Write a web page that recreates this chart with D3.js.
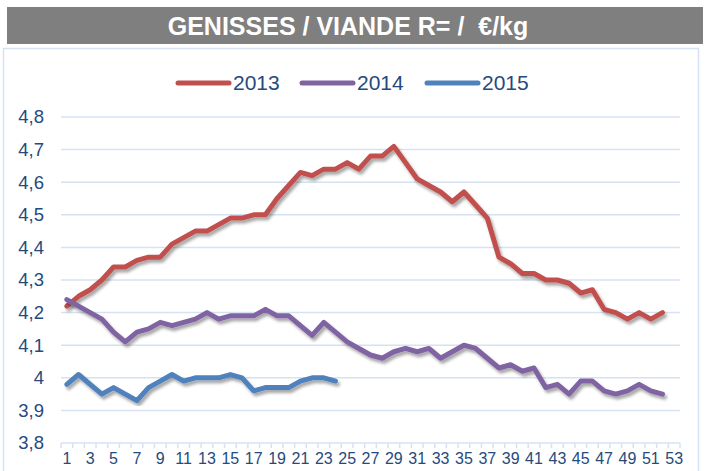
<!DOCTYPE html>
<html>
<head>
<meta charset="utf-8">
<script src="https://cdn.jsdelivr.net/npm/d3@7"></script>
<style>
  html, body { margin: 0; padding: 0; background: #fff; }
  svg { display: block; font-family: 'Liberation Sans', Arial, sans-serif; }
</style>
</head>
<body>
<div class="container"></div>
<script>
const weeks = d3.range(1, 54);
const y2013 = [4.22, 4.25, 4.27, 4.30, 4.34, 4.34, 4.36, 4.37, 4.37, 4.41, 4.43, 4.45, 4.45, 4.47, 4.49, 4.49, 4.50, 4.50, 4.55, 4.59, 4.63, 4.62, 4.64, 4.64, 4.66, 4.64, 4.68, 4.68, 4.71, 4.66, 4.61, 4.59, 4.57, 4.54, 4.57, 4.53, 4.49, 4.37, 4.35, 4.32, 4.32, 4.30, 4.30, 4.29, 4.26, 4.27, 4.21, 4.20, 4.18, 4.20, 4.18, 4.20];
const y2014 = [4.24, 4.22, 4.20, 4.18, 4.14, 4.11, 4.14, 4.15, 4.17, 4.16, 4.17, 4.18, 4.20, 4.18, 4.19, 4.19, 4.19, 4.21, 4.19, 4.19, 4.16, 4.13, 4.17, 4.14, 4.11, 4.09, 4.07, 4.06, 4.08, 4.09, 4.08, 4.09, 4.06, 4.08, 4.10, 4.09, 4.06, 4.03, 4.04, 4.02, 4.03, 3.97, 3.98, 3.95, 3.99, 3.99, 3.96, 3.95, 3.96, 3.98, 3.96, 3.95];
const y2015 = [3.98, 4.01, 3.98, 3.95, 3.97, 3.95, 3.93, 3.97, 3.99, 4.01, 3.99, 4.00, 4.00, 4.00, 4.01, 4.00, 3.96, 3.97, 3.97, 3.97, 3.99, 4.00, 4.00, 3.99];
const yTicks = [3.8, 3.9, 4.0, 4.1, 4.2, 4.3, 4.4, 4.5, 4.6, 4.7, 4.8];
const xLabels = weeks.filter((w) => w % 2 === 1);
const seriesNames = ['2013', '2014', '2015'];

const width = 708;
const height = 471;
const textColor = '#254a7d';
const gridColor = '#d6e2f2';
const colors = { 2013: '#c0504d', 2014: '#8064a2', 2015: '#4f81bd' };
const seriesData = { 2013: y2013, 2014: y2014, 2015: y2015 };

const svg = d3
  .select('.container')
  .append('svg')
  .attr('width', width)
  .attr('height', height);

const defs = svg.append('defs');
defs
  .append('filter')
  .attr('id', 'shadow')
  .attr('x', '-10%')
  .attr('y', '-10%')
  .attr('width', '120%')
  .attr('height', '130%')
  .append('feDropShadow')
  .attr('dx', 2)
  .attr('dy', 3)
  .attr('stdDeviation', 1.8)
  .attr('flood-color', '#000')
  .attr('flood-opacity', 0.35);

// title bar
svg
  .append('rect')
  .attr('x', 7)
  .attr('y', 7)
  .attr('width', 696)
  .attr('height', 37)
  .attr('fill', '#7f7f7f');
svg
  .append('text')
  .attr('x', 348)
  .attr('y', 35)
  .attr('text-anchor', 'middle')
  .attr('fill', '#fff')
  .style('font-size', '25px')
  .style('font-weight', 'bold')
  .style('white-space', 'pre')
  .text('GENISSES / VIANDE R= /  €/kg');

// chart frame
svg
  .append('rect')
  .attr('x', 3.5)
  .attr('y', 48.5)
  .attr('width', 695)
  .attr('height', 440)
  .attr('fill', 'none')
  .attr('stroke', gridColor)
  .attr('stroke-width', 1.5);

const xScale = d3.scaleBand().domain(weeks).range([61, 680]);
const yScale = d3.scaleLinear().domain([3.8, 4.8]).range([443, 117]);
const xMid = (w) => xScale(w) + xScale.bandwidth() / 2;

// gridlines
svg
  .append('g')
  .selectAll('line')
  .data(yTicks.slice(1))
  .enter()
  .append('line')
  .attr('x1', 61)
  .attr('x2', 680)
  .attr('y1', (d) => yScale(d))
  .attr('y2', (d) => yScale(d))
  .attr('stroke', gridColor)
  .attr('stroke-width', 1.5);

// x axis line and boundary ticks
svg
  .append('line')
  .attr('x1', 61)
  .attr('x2', 680)
  .attr('y1', yScale(3.8))
  .attr('y2', yScale(3.8))
  .attr('stroke', gridColor)
  .attr('stroke-width', 1.5);
svg
  .append('g')
  .selectAll('line')
  .data(weeks.map((w) => xScale(w)).concat([xScale.range()[1]]))
  .enter()
  .append('line')
  .attr('x1', (d) => d)
  .attr('x2', (d) => d)
  .attr('y1', yScale(3.8))
  .attr('y2', yScale(3.8) + 5)
  .attr('stroke', gridColor)
  .attr('stroke-width', 1.5);

const xAxis = d3.axisBottom(xScale).tickValues(xLabels).tickSize(0).tickPadding(10);
const gx = svg
  .append('g')
  .attr('transform', `translate(0,${yScale(3.8)})`)
  .call(xAxis);
gx.select('.domain').remove();
gx.selectAll('text')
  .attr('fill', textColor)
  .style('font-size', '16px')
  .style('font-family', "'Liberation Sans', Arial, sans-serif");

const yAxis = d3
  .axisLeft(yScale)
  .tickValues(yTicks)
  .tickSize(0)
  .tickPadding(0)
  .tickFormat((d) => String(+d.toFixed(1)).replace('.', ','));
const gy = svg.append('g').attr('transform', 'translate(44,0)').call(yAxis);
gy.select('.domain').remove();
gy.selectAll('text')
  .attr('fill', textColor)
  .style('font-size', '18.5px')
  .style('font-family', "'Liberation Sans', Arial, sans-serif");

// lines
const line = d3
  .line()
  .x((d, i) => xMid(weeks[i]))
  .y((d) => yScale(d));

seriesNames.forEach((name) => {
  svg
    .append('path')
    .datum(seriesData[name])
    .attr('d', line)
    .attr('fill', 'none')
    .attr('stroke', colors[name])
    .attr('stroke-width', 5)
    .attr('stroke-linejoin', 'round')
    .attr('stroke-linecap', 'round')
    .attr('filter', 'url(#shadow)');
});

// legend
const legendX = [178, 302, 427];
const legend = svg.append('g');
seriesNames.forEach((name, i) => {
  legend
    .append('line')
    .attr('x1', legendX[i])
    .attr('x2', legendX[i] + 51)
    .attr('y1', 83)
    .attr('y2', 83)
    .attr('stroke', colors[name])
    .attr('stroke-width', 5)
    .attr('stroke-linecap', 'round');
  legend
    .append('text')
    .attr('x', legendX[i] + 55)
    .attr('y', 90)
    .attr('fill', textColor)
    .style('font-size', '21px')
    .text(name);
});
</script>
</body>
</html>
